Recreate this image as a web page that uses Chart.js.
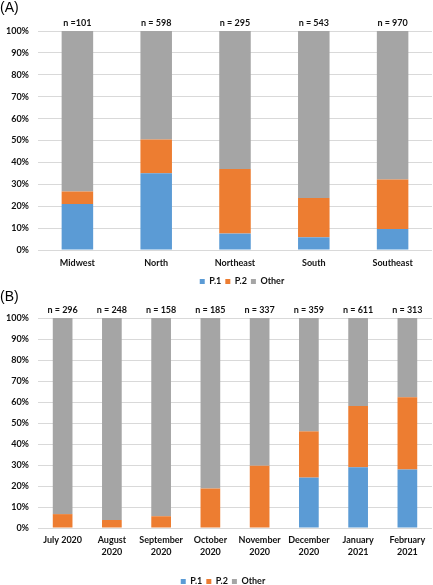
<!DOCTYPE html>
<html>
<head>
<meta charset="utf-8">
<script src="https://cdn.jsdelivr.net/npm/chart.js@4"></script>
<style>
  html, body { margin: 0; padding: 0; background: #fff; overflow: hidden; }
  body { width: 433px; height: 585px; position: relative; }
  .panel { position: absolute; left: 0; width: 433px; }
  .tag { position: absolute; left: 0; font-family: "Liberation Sans", Arial, sans-serif; font-size: 14px; color: #000; z-index: 2; }
</style>
</head>
<body>
<div class="tag" style="top:-1px">(A)</div>
<div class="panel" style="top:0"><canvas id="chartA" width="433" height="296"></canvas></div>
<div class="tag" style="top:288px">(B)</div>
<div class="panel" style="top:290px"><canvas id="chartB" width="433" height="306"></canvas></div>

<script>
// (A) by region
const regions = ['Midwest', 'North', 'Northeast', 'South', 'Southeast'];
const regionN = ['n =101', 'n = 598', 'n = 295', 'n = 543', 'n = 970'];
const regionP1 = [21, 35, 7.5, 5.8, 9.6];
const regionP2 = [5.7, 15.5, 29.5, 17.9, 22.6];
const regionOther = [73.3, 49.5, 63, 76.3, 67.8];

// (B) by month
const months = [['July 2020'], ['August', '2020'], ['September', '2020'], ['October', '2020'],
                ['November', '2020'], ['December', '2020'], ['January', '2021'], ['February', '2021']];
const monthN = ['n = 296', 'n = 248', 'n = 158', 'n = 185', 'n = 337', 'n = 359', 'n = 611', 'n = 313'];
const monthP1 = [0, 0, 0, 0, 0, 24, 28.9, 27.8];
const monthP2 = [6.6, 3.8, 5.6, 18.8, 29.7, 22, 29.2, 34.5];
const monthOther = [93.4, 96.2, 94.4, 81.2, 70.3, 54, 41.9, 37.7];

const yTicks = [0, 10, 20, 30, 40, 50, 60, 70, 80, 90, 100];

const FONT = 'Lato, "Open Sans", sans-serif';
Chart.defaults.font.family = FONT;
Chart.defaults.font.weight = 'bold';
Chart.defaults.font.size = 9;
Chart.defaults.color = '#111';

// "n = ..." above each bar
const nLabels = {
    id: 'nLabels',
    afterDatasetsDraw(chart, args, opts) {
        const ctx = chart.ctx;
        const x = chart.scales.x;
        ctx.save();
        ctx.font = 'bold 9px ' + FONT;
        ctx.fillStyle = '#111';
        ctx.textAlign = 'center';
        ctx.textBaseline = 'middle';
        opts.labels.forEach((t, i) => {
            ctx.fillText(t, x.getPixelForValue(i), chart.chartArea.top - 8);
        });
        ctx.restore();
    }
};

// nudge the legend sideways like the original
const legendShift = {
    id: 'legendShift',
    afterLayout(chart, args, opts) {
        chart.legend.left += opts.dx;
        chart.legend.right += opts.dx;
    }
};

function makeChart(id, labels, p1, p2, other, ns, padTop, xHeight, tickPad, dx) {
    return new Chart(document.getElementById(id), {
        type: 'bar',
        data: {
            labels: labels,
            datasets: [
                { label: 'P.1', data: p1, backgroundColor: '#5B9BD5' },
                { label: 'P.2', data: p2, backgroundColor: '#ED7D31' },
                { label: 'Other', data: other, backgroundColor: '#A5A5A5' }
            ]
        },
        options: {
            responsive: false,
            animation: false,
            barPercentage: 0.4,
            categoryPercentage: 1,
            layout: { padding: { top: padTop, right: 1, left: 0, bottom: 0 } },
            plugins: {
                legend: {
                    position: 'bottom',
                    labels: { boxWidth: 5, boxHeight: 5, padding: 4, font: { size: 9, weight: 'bold' } }
                },
                tooltip: { enabled: false },
                nLabels: { labels: ns },
                legendShift: { dx: dx }
            },
            scales: {
                x: {
                    stacked: true,
                    grid: { display: false, drawTicks: false },
                    border: { display: false },
                    ticks: { padding: tickPad, maxRotation: 0, autoSkip: false, font: { size: 9, lineHeight: 1.33 } },
                    afterFit: s => { s.height = xHeight; }
                },
                y: {
                    stacked: true,
                    min: 0,
                    max: 100,
                    afterBuildTicks: s => { s.ticks = yTicks.map(v => ({ value: v })); },
                    grid: { color: '#D9D9D9', drawTicks: false },
                    border: { display: false },
                    ticks: { padding: 9, callback: v => v + '%' },
                    afterFit: s => { s.width = 38; }
                }
            }
        },
        plugins: [nLabels, legendShift]
    });
}

makeChart('chartA', regions, regionP1, regionP2, regionOther, regionN, 31, 23, 7, 26);
makeChart('chartB', months, monthP1, monthP2, monthOther, monthN, 28, 45, 6, 7);
</script>
</body>
</html>
